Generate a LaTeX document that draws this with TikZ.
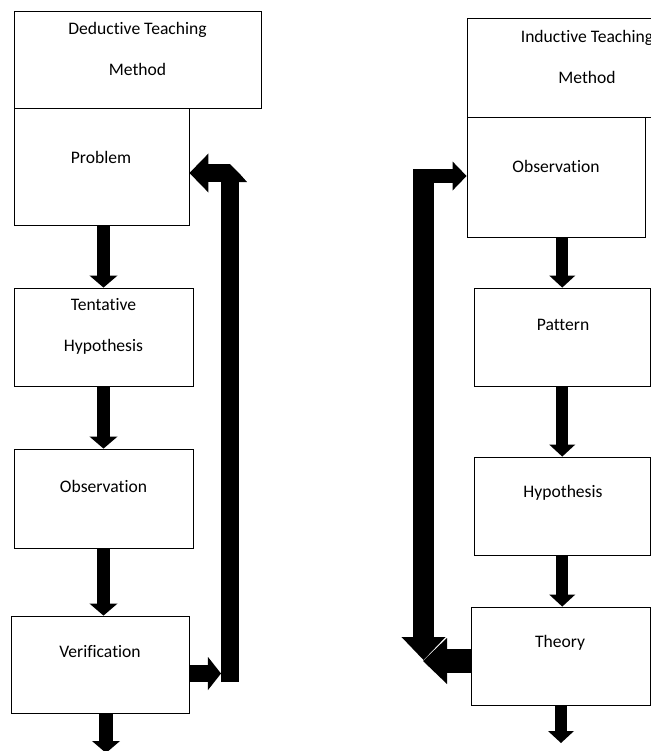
\documentclass[tikz,border=0pt]{standalone}
\usepackage{fontspec}
\setmainfont{Carlito}[Ligatures=NoCommon]
\usetikzlibrary{positioning,calc,fit,arrows.meta}

\tikzset{
  box/.style={draw, line width=0.6pt, inner sep=0pt},
  txt/.style={font=\fontsize{12.5}{29.2}\selectfont, align=center, inner sep=0pt},
  blockarr/.style n args={3}{line width=#1, -{Triangle[width=#2,length=#3,line width=0pt]}},
}

\begin{document}
\begin{tikzpicture}[x=0.025cm, y=-0.025cm]
    \useasboundingbox (0,0) rectangle (651,751);
    \clip (0,0) rectangle (651,751);

      % Deductive
      \node[box, fit={(14,11) (261,108)}] (dhead) {};
      \node[box, fit={(14,108) (189,225)}] (problem) {};
      \node[box, fit={(14,288) (193,386)}] (tent) {};
      \node[box, fit={(14,449) (193,548)}] (lobs) {};
      \node[box, fit={(11,616) (189,713)}] (verif) {};

      \node[txt] (dhead-t) at (137.5,48.5) {Deductive Teaching\\Method};
      \node[txt] (problem-t) at (101,157) {Problem};
      \node[txt] (tent-t) at (103.5,326.5) {Tentative\\Hypothesis};
      \node[txt] (lobs-t) at (103.5,486) {Observation};
      \node[txt] (verif-t) at (100,652) {Verification};

      \draw[blockarr={0.325cm}{0.7cm}{0.3cm}] (tent.north |- problem.south) -- (tent.north);
      \draw[blockarr={0.325cm}{0.7cm}{0.3cm}] (tent.south) -- (lobs.north);
      \draw[blockarr={0.325cm}{0.7cm}{0.3cm}] (lobs.south) -- (lobs.south |- verif.north);
      \coordinate (dend) at (106,753);
      \draw[blockarr={0.325cm}{0.7cm}{0.3cm}] (dend |- verif.south) -- (dend);

      % Loop back
      \coordinate (vin) at (221,673.5);
      \coordinate (lbarfoot) at (230,682);
      \coordinate (lbend) at (230,173);
      \draw[blockarr={0.425cm}{0.825cm}{0.325cm}] (verif.east |- vin) -- (vin);
      \draw[blockarr={0.45cm}{0.975cm}{0.475cm}, line join=bevel]
        (lbarfoot) -- (lbend) -- (lbend -| problem.east);
      \fill ($(lbend)+(9,0)$) -- ++(8,9) -- ++(-8,0) -- cycle;

      % Inductive
      \node[box, fit={(467,18) (707,117)}] (ihead) {};
      \node[box, fit={(467,117) (645,237)}] (robs) {};
      \node[box, fit={(474,288) (650.5,386)}] (pattern) {};
      \node[box, fit={(474,457) (650.5,555)}] (hyp) {};
      \node[box, fit={(471,607) (650,705)}] (theory) {};

      \node[txt] (ihead-t) at (587,57) {Inductive Teaching\\Method};
      \node[txt] (robs-t) at (556,166) {Observation};
      \node[txt] (pattern-t) at (563,325) {Pattern};
      \node[txt] (hyp-t) at (563,493) {Hypothesis};
      \node[txt] (theory-t) at (560,643) {Theory};

      \draw[blockarr={0.3cm}{0.65cm}{0.3cm}] (robs.south -| pattern.north) -- (pattern.north);
      \draw[blockarr={0.3cm}{0.65cm}{0.3cm}] (pattern.south) -- (hyp.north);
      \draw[blockarr={0.3cm}{0.65cm}{0.3cm}] (hyp.south) -- (hyp.south |- theory.north);
      \coordinate (rend) at (561,743);
      \draw[blockarr={0.3cm}{0.65cm}{0.3cm}] (rend |- theory.south) -- (rend);

      % Loop back
      \coordinate (rtip) at (423,661);
      \coordinate (rbend) at (423.5,176);
      \coordinate (rfoot) at (423.5,660);
      \draw[blockarr={0.6cm}{1.15cm}{0.6cm}] (theory.west |- rtip) -- (rtip);
      \draw[blockarr={0.525cm}{1.1cm}{0.575cm}] ($(rbend)+(0,-7)$) -- (rfoot);
      \draw[blockarr={0.35cm}{0.725cm}{0.35cm}] ($(rbend)+(-10.5,0)$) -- (rbend -| robs.west);
  \end{tikzpicture}
\end{document}
